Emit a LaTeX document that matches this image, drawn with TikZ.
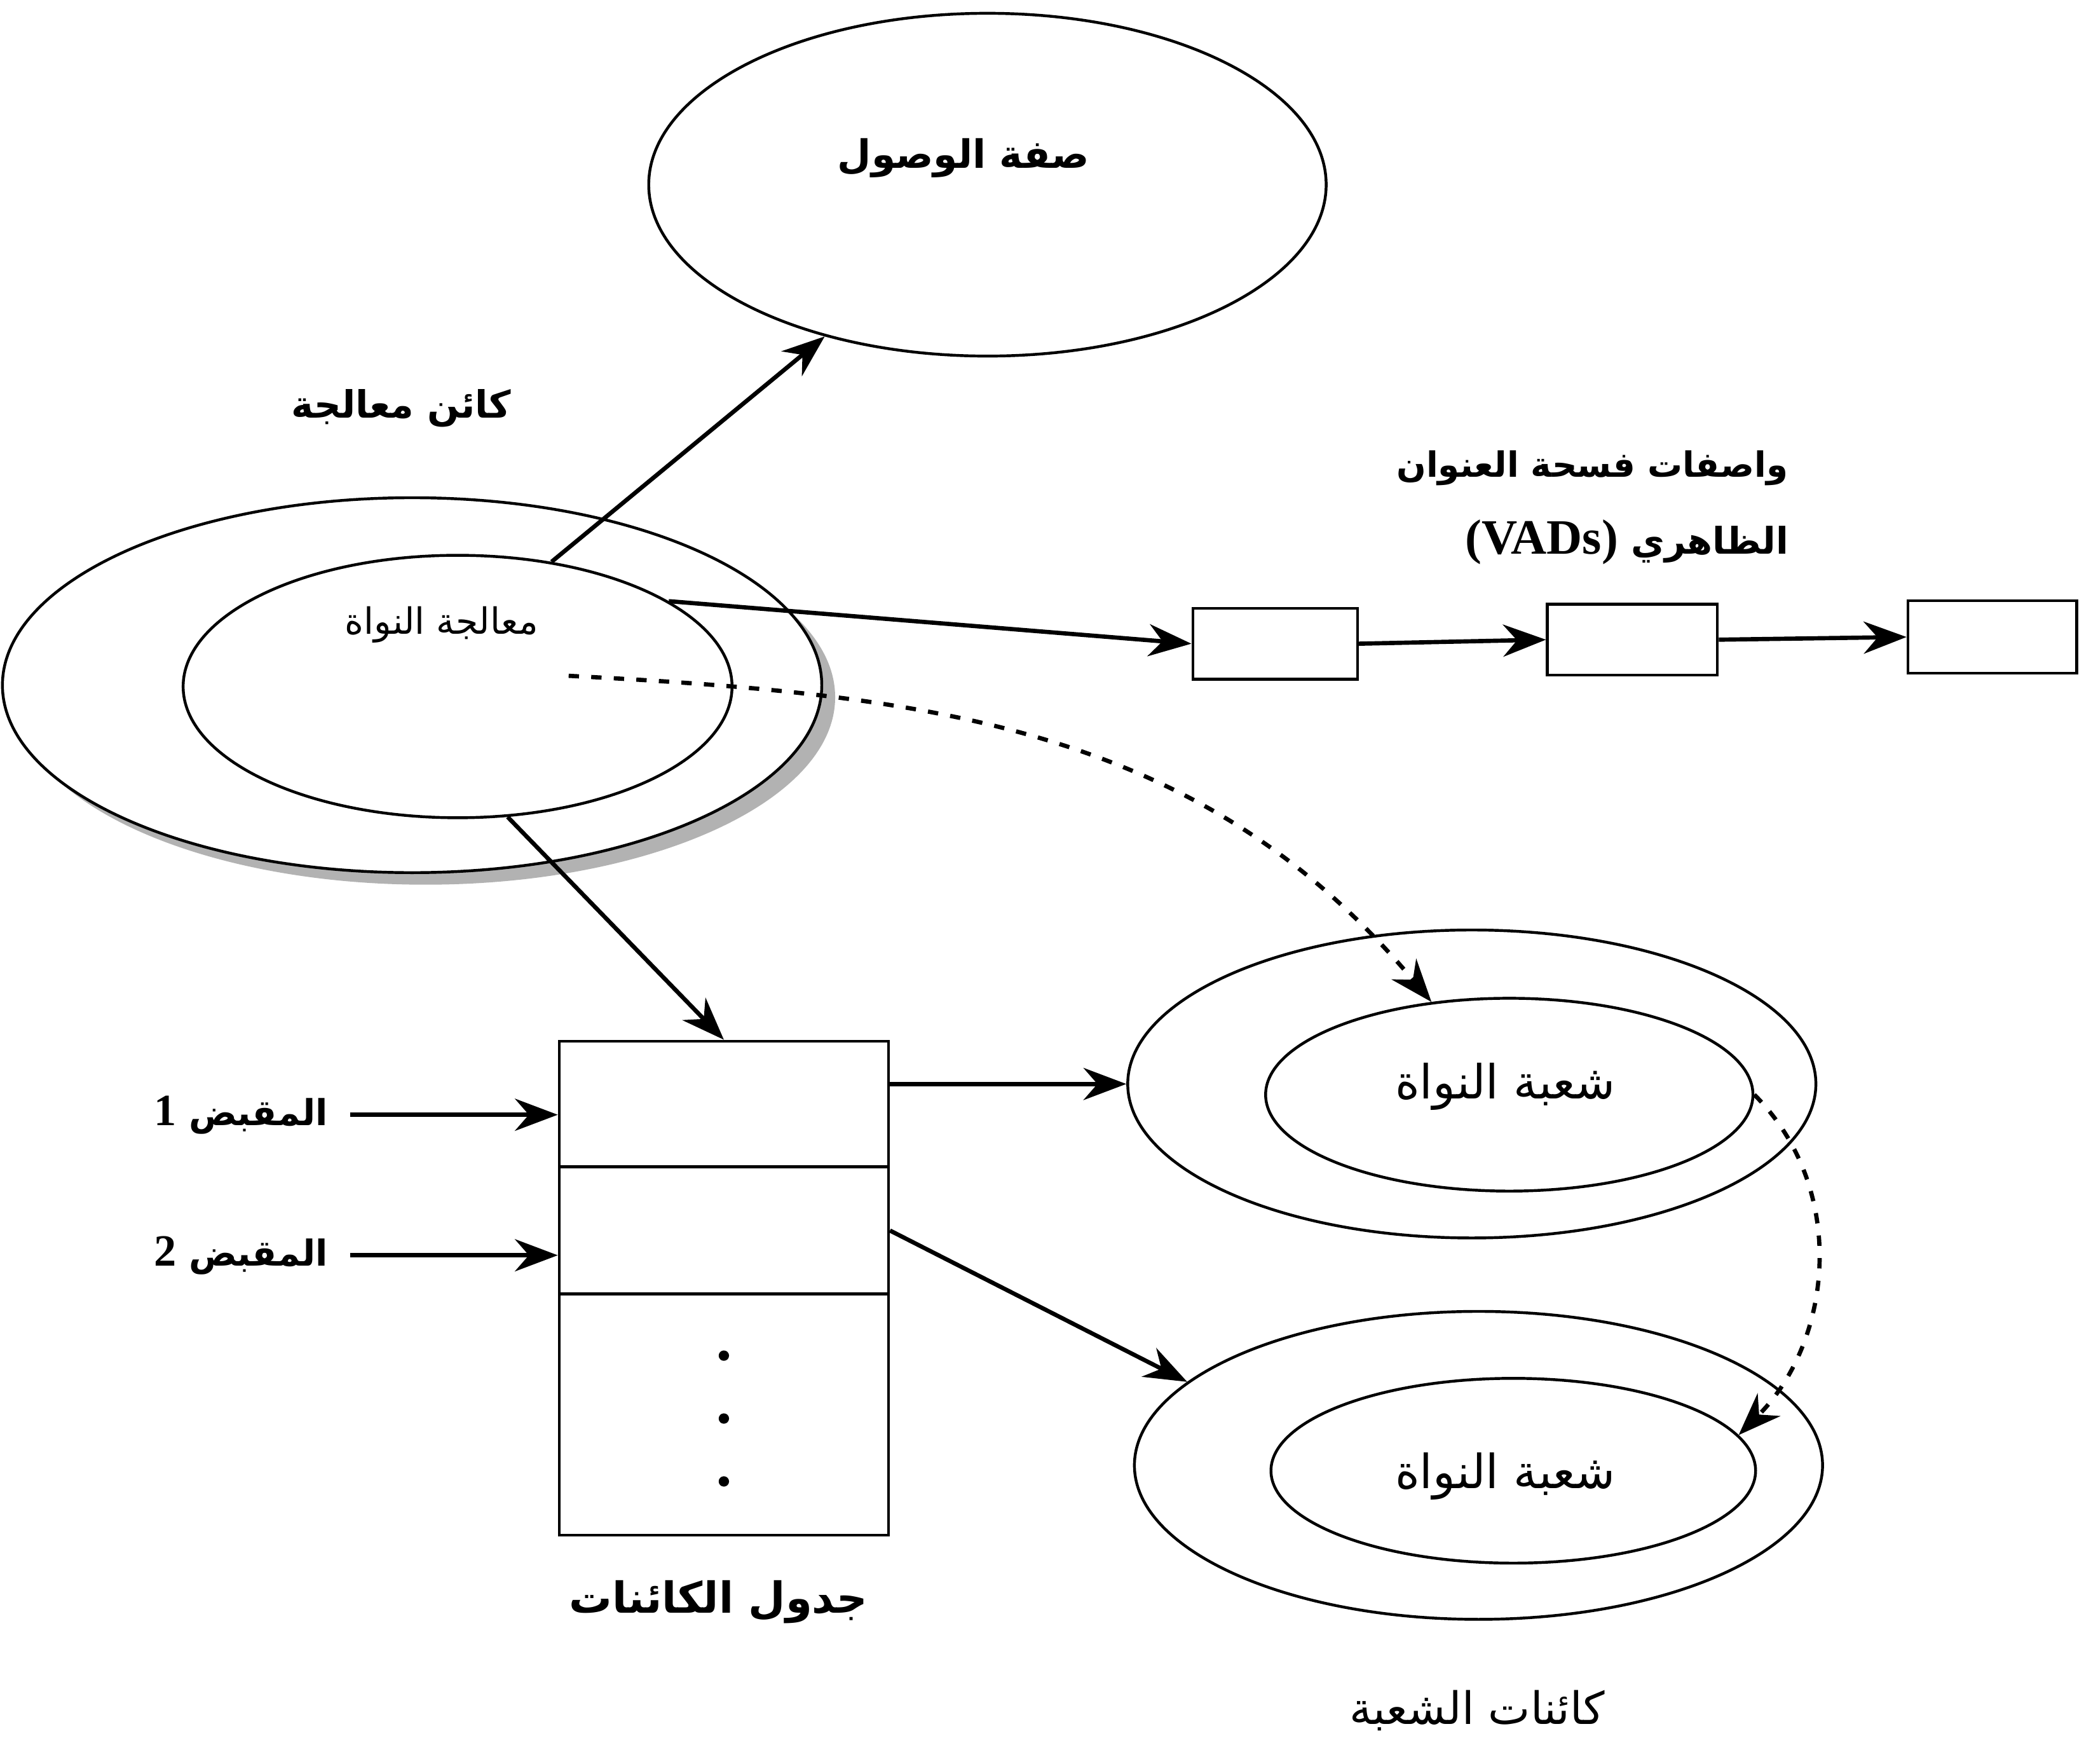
\documentclass[tikz,border=0pt]{standalone}
\usepackage{fontspec}
\usetikzlibrary{arrows.meta,shapes.geometric}
\newfontfamily\arabicfont[Script=Arabic]{DejaVu Sans}
\newfontfamily\latinfont{Liberation Serif}
\TeXXeTstate=1

\begin{document}
\begin{tikzpicture}[x=0.01cm,y=-0.01cm]
	\tikzset{oval/.style={draw,ellipse,line width=.6pt,inner sep=0pt,fill=white}}
	\tikzset{cell/.style={draw,rectangle,line width=.6pt,inner sep=0pt}}
	\tikzset{lbl/.style={inner sep=.4mm,font=\arabicfont\fontsize{#1}{#1}\selectfont}}
	\tikzset{blbl/.style={inner sep=.4mm,font=\arabicfont\bfseries\fontsize{#1}{#1}\selectfont}}
	\tikzset{link/.style={->,line width=.9pt,>={Stealth[length=3.2mm,width=2.4mm]}}}
	\tikzset{dlink/.style={link,dash pattern=on 2.2pt off 2.6pt}}
	\useasboundingbox (0,0) rectangle (1568,1318);

	% ovals
	\node[oval,minimum width=5.06cm,minimum height=2.56cm] (acc) at (738,138) {};
	\node[oval,draw=none,fill=gray!60,minimum width=6.12cm,minimum height=2.80cm] (procshd) at (318,521) {};
	\node[oval,minimum width=6.12cm,minimum height=2.80cm] (procout) at (308,512) {};
	\node[oval,minimum width=4.10cm,minimum height=1.96cm] (procin) at (342,513) {};
	\node[oval,minimum width=5.14cm,minimum height=2.30cm] (th1out) at (1100,810) {};
	\node[oval,minimum width=3.64cm,minimum height=1.44cm] (th1in) at (1128,818) {};
	\node[oval,minimum width=5.14cm,minimum height=2.30cm] (th2out) at (1105,1095) {};
	\node[oval,minimum width=3.62cm,minimum height=1.38cm] (th2in) at (1131,1099) {};

	% boxes
	\node[cell,minimum width=1.23cm,minimum height=.53cm] (vad1) at (953,481) {};
	\node[cell,minimum width=1.27cm,minimum height=.53cm] (vad2) at (1220,478) {};
	\node[cell,minimum width=1.26cm,minimum height=.54cm] (vad3) at (1489,476) {};
	\node[cell,minimum width=2.46cm,minimum height=.94cm] (row1) at (541,825) {};
	\node[cell,minimum width=2.46cm,minimum height=.95cm] (row2) at (541,919.5) {};
	\node[cell,minimum width=2.46cm,minimum height=1.80cm] (row3) at (541,1057) {};
	\foreach \y in {1013,1060,1107}
		\fill (541,\y) circle (1.1pt);

	% labels
	\node[blbl=8.3] (acclbl) at (720,118) {\beginR صفة الوصول\endR};
	\node[blbl=8] (proclbl) at (300,305) {\beginR كائن معالجة\endR};
	\node[lbl=7.7] (procinlbl) at (330,467) {\beginR معالجة النواة\endR};
	\node[blbl=7.4] (vadlbl1) at (1190,350) {\beginR واصفات فسحة العنوان\endR};
	\node[blbl=7.8] (vadlbl2) at (1216,405) {{\latinfont\bfseries\fontsize{10.5}{12}\selectfont (VADs)} \beginR الظاهري\endR};
	\node[blbl=7.6] (hnd1) at (180,833) {{\latinfont\bfseries\fontsize{9.5}{11}\selectfont 1} \beginR المقبض\endR};
	\node[blbl=7.6] (hnd2) at (180,938) {{\latinfont\bfseries\fontsize{9.5}{11}\selectfont 2} \beginR المقبض\endR};
	\node[blbl=9.1] (tablbl) at (537,1197) {\beginR جدول الكائنات\endR};
	\node[lbl=10] (th1lbl) at (1125,812) {\beginR شعبة النواة\endR};
	\node[lbl=10] (th2lbl) at (1125,1103) {\beginR شعبة النواة\endR};
	\node[lbl=9.5] (thlbl) at (1104,1278) {\beginR كائنات الشعبة\endR};
	\coordinate (dstart) at (425,505);

	% edges
	\draw[link] (procin.53) -- (acc.223);
	\draw[link] (procin.22) -- (vad1.west);
	\draw[link] (vad1.east) -- (vad2.west);
	\draw[link] (vad2.east) -- (vad3.west);
	\draw[link] (procin.-69) -- (row1.north);
	\draw[link,shorten <=1.2mm] (hnd1.east) -- (hnd1.east -| row1.west);
	\draw[link,shorten <=1.2mm] (hnd2.east) -- (hnd2.east -| row2.west);
	\draw[link] (th1out.west -| row1.east) -- (th1out.west);
	\draw[link] (row2.east) -- (th2out.164);
	\draw[dlink] (dstart) to[out=-3,in=130] (th1in.130);
	\draw[dlink] (th1in.east) to[out=-45,in=45] (th2in.9);
\end{tikzpicture}
\end{document}
